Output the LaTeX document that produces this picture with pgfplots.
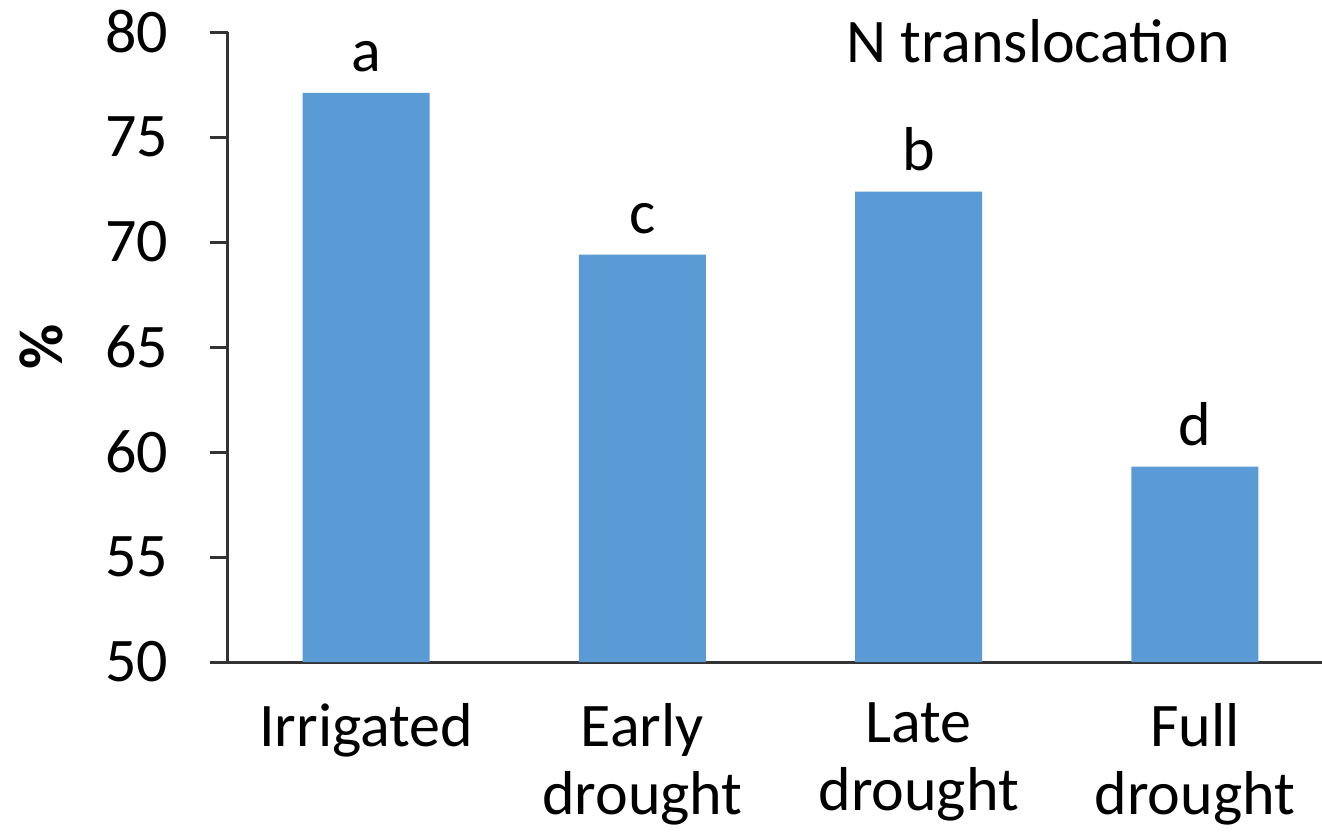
\documentclass[border=0pt]{standalone}
\usepackage{pgfplots}
\pgfplotsset{compat=1.18}
\usepackage{fontspec}
\setmainfont{Carlito}
\definecolor{barblue}{HTML}{5B9BD5}
\definecolor{axgray}{HTML}{333333}
\newcommand{\bigf}{\fontsize{31}{37}\selectfont}
\begin{document}
\bigf
\begin{tikzpicture}
\begin{axis}[
  scale only axis,
  width=547pt, height=315pt,
  xmin=-0.5, xmax=3.46,
  ymin=50, ymax=80,
  ytick={50,55,...,80},
  xtick={0,1,2,3},
  xticklabels={Irrigated,Early\\drought,Late\\drought,Full\\drought},
  xticklabel style={align=center, font=\fontsize{31}{34}\selectfont, yshift=-1pt},
  yticklabel style={font=\bigf, xshift=-10.5pt},
  /pgf/number format/assume math mode=true,
  axis x line*=bottom,
  axis y line*=left,
  axis line style={axgray, line width=1.5pt},
  tick style={axgray, line width=1.5pt},
  major tick length=9pt,
  tick align=outside,
  x tick style={draw=none},
  ylabel={\textbf{\%}},
  ylabel style={font=\bigf},
  ybar, bar width=63.5pt,
  clip=false,
  nodes near coords,
  point meta=explicit symbolic,
  every node near coord/.append style={font=\bigf, text=black, yshift=0pt},
]
\addplot[fill=barblue, draw=none] coordinates {(0,77.1)[a] (1,69.4)[c] (2,72.4)[b] (3,59.3)[d]};
\node[anchor=base, font=\bigf] at (axis cs:2.432,78.57) {N translocation};
\coordinate (O) at (rel axis cs:0,0);
\end{axis}
\pgfresetboundingbox
\path[use as bounding box] ([shift={(-114pt,-85pt)}]O) rectangle ([shift={(547pt,331pt)}]O);
\end{tikzpicture}
\end{document}
